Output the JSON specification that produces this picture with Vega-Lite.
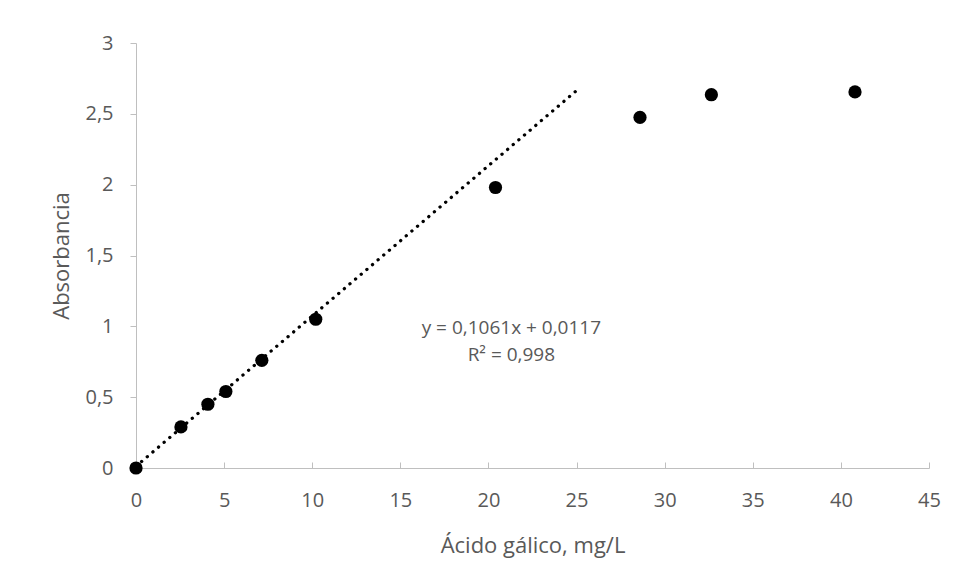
{
  "$schema": "https://vega.github.io/schema/vega-lite/v6.json",
  "autosize": {"type": "none"},
  "width": 793,
  "height": 425,
  "padding": {"left": 136, "top": 43, "right": 27, "bottom": 113},
  "background": "white",
  "config": {
    "view": {"stroke": null},
    "font": "Open Sans",
    "axis": {
      "grid": false,
      "domainColor": "#bfbfbf",
      "tickColor": "#bfbfbf",
      "labelColor": "#595959",
      "titleColor": "#595959",
      "labelFont": "Open Sans",
      "titleFont": "Open Sans",
      "labelFontSize": 20,
      "titleFontSize": 22,
      "titleFontWeight": "normal",
      "labelFlush": false,
      "labelOverlap": false
    }
  },
  "datasets": {
    "pts": [
      {"x": 0, "y": 0},
      {"x": 2.55, "y": 0.29},
      {"x": 4.08, "y": 0.45},
      {"x": 5.1, "y": 0.54},
      {"x": 7.14, "y": 0.76},
      {"x": 10.2, "y": 1.05},
      {"x": 20.4, "y": 1.98},
      {"x": 28.6, "y": 2.475},
      {"x": 32.65, "y": 2.635},
      {"x": 40.8, "y": 2.655}
    ],
    "trend": [
      {"x": 0, "y": 0.0117},
      {"x": 25, "y": 2.664}
    ],
    "labels": [
      {"x": 21.3, "y": 0.99, "t": "y = 0,1061x + 0,0117"},
      {"x": 21.3, "y": 0.795, "t": "R² = 0,998"}
    ]
  },
  "layer": [
    {
      "data": {"name": "trend"},
      "mark": {"type": "line", "color": "black", "strokeWidth": 3.3, "strokeDash": [0.1, 7.3], "strokeCap": "round"},
      "encoding": {
        "x": {"field": "x", "type": "quantitative", "scale": {"domain": [0, 45], "nice": false},
          "axis": {"title": "Ácido gálico, mg/L", "values": [0,5,10,15,20,25,30,35,40,45], "tickSize": -6, "labelPadding": 28, "titlePadding": 25}},
        "y": {"field": "y", "type": "quantitative", "scale": {"domain": [0, 3], "nice": false},
          "axis": {"title": "Absorbancia", "values": [0,0.5,1,1.5,2,2.5,3], "tickSize": 6, "labelPadding": 17, "titlePadding": 11,
            "format": "~g", "labelExpr": "replace(datum.label, '.', ',')"}}
      }
    },
    {
      "data": {"name": "pts"},
      "mark": {"type": "point", "filled": true, "color": "black", "size": 175, "opacity": 1},
      "encoding": {
        "x": {"field": "x", "type": "quantitative"},
        "y": {"field": "y", "type": "quantitative"}
      }
    },
    {
      "data": {"name": "labels"},
      "mark": {"type": "text", "color": "#595959", "fontSize": 19, "font": "Open Sans", "align": "center", "baseline": "middle"},
      "encoding": {
        "x": {"field": "x", "type": "quantitative"},
        "y": {"field": "y", "type": "quantitative"},
        "text": {"field": "t"}
      }
    }
  ]
}
